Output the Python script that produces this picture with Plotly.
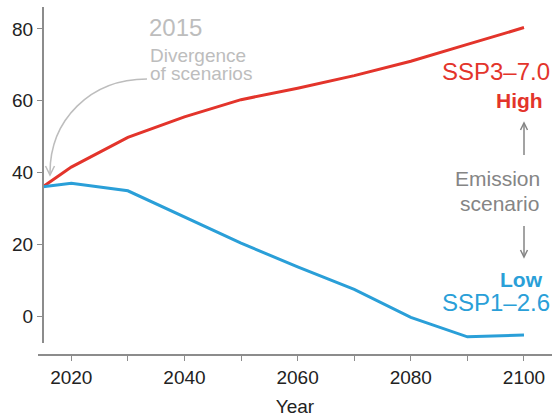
import plotly.graph_objects as go

# Scenario pathways (values per decade, starting from the 2015 divergence point)
years = [2015, 2020, 2030, 2040, 2050, 2060, 2070, 2080, 2090, 2100]
ssp3_70 = [36.0, 41.5, 49.8, 55.5, 60.3, 63.5, 67.0, 71.0, 75.7, 80.4]
ssp1_26 = [36.0, 37.0, 34.9, 27.6, 20.3, 13.7, 7.4, -0.4, -5.8, -5.3]

x_ticks = [2020, 2030, 2040, 2050, 2060, 2070, 2080, 2090, 2100]
x_tick_labels = ["2020", "", "2040", "", "2060", "", "2080", "", "2100"]
y_ticks = [0, 20, 40, 60, 80]

RED = "#e3342b"
BLUE = "#2a9fd8"
AXIS = "#8c8c8c"
LIGHT = "#bdbdbd"
MID = "#858585"
FONT = "Liberation Sans, Arial, sans-serif"

W, H = 552, 417
ML, MR, MT, MB = 38, 0, 7, 62
PW, PH = W - ML - MR, H - MT - MB


def px(x, y):
    """Convert window pixel position to plot-area paper coordinates."""
    return (x - ML) / PW, (H - MB - y) / PH


fig = go.Figure()
fig.add_trace(go.Scatter(x=years, y=ssp3_70, mode="lines",
                         line=dict(color=RED, width=3), name="SSP3–7.0"))
fig.add_trace(go.Scatter(x=years, y=ssp1_26, mode="lines",
                         line=dict(color=BLUE, width=3), name="SSP1–2.6"))

annotations = []


def label(text, x, y, size, color, xanchor, bold=False):
    ax_, ay_ = px(x, y)
    annotations.append(dict(
        text=f"<b>{text}</b>" if bold else text, x=ax_, y=ay_,
        xref="paper", yref="paper", xanchor=xanchor, yanchor="middle",
        showarrow=False, font=dict(family=FONT, size=size, color=color)))


label("2015", 147, 28, 24, LIGHT, "left")
label("Divergence", 148, 55, 19, LIGHT, "left")
label("of scenarios", 148, 73, 19, LIGHT, "left")
label("SSP3–7.0", 552, 71, 24, RED, "right")
label("High", 545, 101, 21, RED, "right", bold=True)
label("Emission", 497, 179, 21, MID, "center")
label("scenario", 499, 203, 21, MID, "center")
label("Low", 545, 279.5, 21, BLUE, "right", bold=True)
label("SSP1–2.6", 552, 302, 24, BLUE, "right")

shapes = []


def path_shape(points, cmd, color, width):
    parts = []
    for c, pts in zip(cmd, points):
        coords = " ".join(f"{px(a, b)[0]:.5f},{px(a, b)[1]:.5f}" for a, b in pts)
        parts.append(f"{c} {coords}")
    shapes.append(dict(type="path", path=" ".join(parts), xref="paper", yref="paper",
                       line=dict(color=color, width=width), fillcolor="rgba(0,0,0,0)"))


# Curved pointer from the divergence note to the 2015 starting point
path_shape([[(147, 79)], [(90, 79), (50, 120), (50, 173)]], ["M", "C"], LIGHT, 1.5)
path_shape([[(45.5, 166)], [(50, 175)], [(54.5, 166)]], ["M", "L", "L"], LIGHT, 1.5)

# Up/down arrows around the emission scenario label
path_shape([[(524, 155)], [(524, 123)]], ["M", "L"], MID, 1.5)
path_shape([[(520.5, 130)], [(524, 123)], [(527.5, 130)]], ["M", "L", "L"], MID, 1.5)
path_shape([[(524, 226)], [(524, 257)]], ["M", "L"], MID, 1.5)
path_shape([[(520.5, 250)], [(524, 257)], [(527.5, 250)]], ["M", "L", "L"], MID, 1.5)

y_bottom_frac = (H - MB - 342.7) / PH

fig.update_layout(
    width=W, height=H,
    margin=dict(l=ML, r=MR, t=MT, b=MB, pad=0),
    paper_bgcolor="white", plot_bgcolor="white",
    showlegend=False,
    font=dict(family=FONT, size=19, color="#222222"),
    annotations=annotations,
    shapes=shapes,
    xaxis=dict(
        range=[2014.12, 2104.95], domain=[0, 1],
        anchor="free", position=0,
        tickmode="array", tickvals=x_ticks, ticktext=x_tick_labels,
        ticks="outside", ticklen=5, tickwidth=1.2, tickcolor=AXIS,
        showline=True, linecolor=AXIS, linewidth=2,
        showgrid=False, zeroline=False,
        tickfont=dict(size=19, color="#222222"),
        title=dict(text="Year", font=dict(size=19, color="#222222"), standoff=14),
    ),
    yaxis=dict(
        range=[-7.44, 86.13], domain=[y_bottom_frac, 1],
        anchor="free", position=(43 - ML) / PW,
        tickmode="array", tickvals=y_ticks,
        ticks="outside", ticklen=5, tickwidth=1.2, tickcolor=AXIS,
        showline=True, linecolor=AXIS, linewidth=2,
        showgrid=False, zeroline=False,
        tickfont=dict(size=19, color="#222222"),
    ),
)

fig.write_html("out.html")
